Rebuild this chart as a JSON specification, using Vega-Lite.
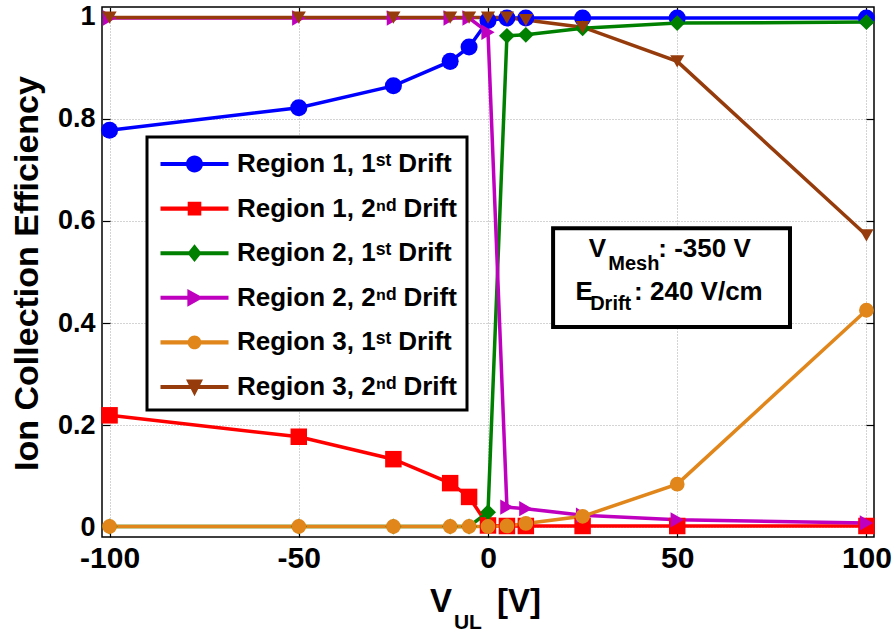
{
  "$schema": "https://vega.github.io/schema/vega-lite/v6.json",
  "width": 772,
  "height": 530,
  "autosize": {"type": "none"},
  "padding": {"left": 102, "top": 7, "right": 18, "bottom": 96},
  "background": "white",
  "config": {
    "view": {"stroke": "black", "strokeWidth": 1.5},
    "font": "Liberation Sans",
    "axis": {
      "labelFont": "Liberation Sans",
      "labelFontWeight": "bold",
      "labelColor": "black",
      "titleFont": "Liberation Sans",
      "titleFontWeight": "bold",
      "titleColor": "black",
      "domain": false,
      "tickColor": "black",
      "tickWidth": 1.2,
      "gridColor": "#a8a8a8",
      "gridDash": [1, 2],
      "gridWidth": 1
    }
  },
  "datasets": {
    "main": [
      {"V": -100, "eff": 0.778, "series": "Region 1, 1ˢᵗ Drift"},
      {"V": -50, "eff": 0.822, "series": "Region 1, 1ˢᵗ Drift"},
      {"V": -25, "eff": 0.865, "series": "Region 1, 1ˢᵗ Drift"},
      {"V": -10, "eff": 0.913, "series": "Region 1, 1ˢᵗ Drift"},
      {"V": -5, "eff": 0.941, "series": "Region 1, 1ˢᵗ Drift"},
      {"V": 0, "eff": 0.993, "series": "Region 1, 1ˢᵗ Drift"},
      {"V": 5, "eff": 0.998, "series": "Region 1, 1ˢᵗ Drift"},
      {"V": 10, "eff": 0.998, "series": "Region 1, 1ˢᵗ Drift"},
      {"V": 25, "eff": 0.998, "series": "Region 1, 1ˢᵗ Drift"},
      {"V": 50, "eff": 0.998, "series": "Region 1, 1ˢᵗ Drift"},
      {"V": 100, "eff": 0.998, "series": "Region 1, 1ˢᵗ Drift"},
      {"V": -100, "eff": 0.219, "series": "Region 1, 2ⁿᵈ Drift"},
      {"V": -50, "eff": 0.177, "series": "Region 1, 2ⁿᵈ Drift"},
      {"V": -25, "eff": 0.133, "series": "Region 1, 2ⁿᵈ Drift"},
      {"V": -10, "eff": 0.086, "series": "Region 1, 2ⁿᵈ Drift"},
      {"V": -5, "eff": 0.059, "series": "Region 1, 2ⁿᵈ Drift"},
      {"V": 0, "eff": 0.003, "series": "Region 1, 2ⁿᵈ Drift"},
      {"V": 5, "eff": 0.002, "series": "Region 1, 2ⁿᵈ Drift"},
      {"V": 10, "eff": 0.002, "series": "Region 1, 2ⁿᵈ Drift"},
      {"V": 25, "eff": 0.002, "series": "Region 1, 2ⁿᵈ Drift"},
      {"V": 50, "eff": 0.002, "series": "Region 1, 2ⁿᵈ Drift"},
      {"V": 100, "eff": 0.002, "series": "Region 1, 2ⁿᵈ Drift"},
      {"V": -100, "eff": 0.001, "series": "Region 2, 1ˢᵗ Drift"},
      {"V": -50, "eff": 0.001, "series": "Region 2, 1ˢᵗ Drift"},
      {"V": -25, "eff": 0.001, "series": "Region 2, 1ˢᵗ Drift"},
      {"V": -10, "eff": 0.001, "series": "Region 2, 1ˢᵗ Drift"},
      {"V": -5, "eff": 0.001, "series": "Region 2, 1ˢᵗ Drift"},
      {"V": 0, "eff": 0.029, "series": "Region 2, 1ˢᵗ Drift"},
      {"V": 5, "eff": 0.963, "series": "Region 2, 1ˢᵗ Drift"},
      {"V": 10, "eff": 0.965, "series": "Region 2, 1ˢᵗ Drift"},
      {"V": 25, "eff": 0.978, "series": "Region 2, 1ˢᵗ Drift"},
      {"V": 50, "eff": 0.988, "series": "Region 2, 1ˢᵗ Drift"},
      {"V": 100, "eff": 0.99, "series": "Region 2, 1ˢᵗ Drift"},
      {"V": -100, "eff": 0.998, "series": "Region 2, 2ⁿᵈ Drift"},
      {"V": -50, "eff": 0.998, "series": "Region 2, 2ⁿᵈ Drift"},
      {"V": -25, "eff": 0.998, "series": "Region 2, 2ⁿᵈ Drift"},
      {"V": -10, "eff": 0.998, "series": "Region 2, 2ⁿᵈ Drift"},
      {"V": -5, "eff": 0.998, "series": "Region 2, 2ⁿᵈ Drift"},
      {"V": 0, "eff": 0.97, "series": "Region 2, 2ⁿᵈ Drift"},
      {"V": 5, "eff": 0.039, "series": "Region 2, 2ⁿᵈ Drift"},
      {"V": 10, "eff": 0.036, "series": "Region 2, 2ⁿᵈ Drift"},
      {"V": 25, "eff": 0.023, "series": "Region 2, 2ⁿᵈ Drift"},
      {"V": 50, "eff": 0.014, "series": "Region 2, 2ⁿᵈ Drift"},
      {"V": 100, "eff": 0.008, "series": "Region 2, 2ⁿᵈ Drift"},
      {"V": -100, "eff": 0.001, "series": "Region 3, 1ˢᵗ Drift"},
      {"V": -50, "eff": 0.001, "series": "Region 3, 1ˢᵗ Drift"},
      {"V": -25, "eff": 0.001, "series": "Region 3, 1ˢᵗ Drift"},
      {"V": -10, "eff": 0.001, "series": "Region 3, 1ˢᵗ Drift"},
      {"V": -5, "eff": 0.001, "series": "Region 3, 1ˢᵗ Drift"},
      {"V": 0, "eff": 0.001, "series": "Region 3, 1ˢᵗ Drift"},
      {"V": 5, "eff": 0.002, "series": "Region 3, 1ˢᵗ Drift"},
      {"V": 10, "eff": 0.007, "series": "Region 3, 1ˢᵗ Drift"},
      {"V": 25, "eff": 0.021, "series": "Region 3, 1ˢᵗ Drift"},
      {"V": 50, "eff": 0.084, "series": "Region 3, 1ˢᵗ Drift"},
      {"V": 100, "eff": 0.425, "series": "Region 3, 1ˢᵗ Drift"},
      {"V": -100, "eff": 0.999, "series": "Region 3, 2ⁿᵈ Drift"},
      {"V": -50, "eff": 0.999, "series": "Region 3, 2ⁿᵈ Drift"},
      {"V": -25, "eff": 0.999, "series": "Region 3, 2ⁿᵈ Drift"},
      {"V": -10, "eff": 0.999, "series": "Region 3, 2ⁿᵈ Drift"},
      {"V": -5, "eff": 0.999, "series": "Region 3, 2ⁿᵈ Drift"},
      {"V": 0, "eff": 0.999, "series": "Region 3, 2ⁿᵈ Drift"},
      {"V": 5, "eff": 0.999, "series": "Region 3, 2ⁿᵈ Drift"},
      {"V": 10, "eff": 0.994, "series": "Region 3, 2ⁿᵈ Drift"},
      {"V": 25, "eff": 0.98, "series": "Region 3, 2ⁿᵈ Drift"},
      {"V": 50, "eff": 0.913, "series": "Region 3, 2ⁿᵈ Drift"},
      {"V": 100, "eff": 0.572, "series": "Region 3, 2ⁿᵈ Drift"}
    ],
    "legendrows": [
      {"V": null, "eff": null, "series": "Region 1, 1ˢᵗ Drift"},
      {"V": null, "eff": null, "series": "Region 1, 2ⁿᵈ Drift"},
      {"V": null, "eff": null, "series": "Region 2, 1ˢᵗ Drift"},
      {"V": null, "eff": null, "series": "Region 2, 2ⁿᵈ Drift"},
      {"V": null, "eff": null, "series": "Region 3, 1ˢᵗ Drift"},
      {"V": null, "eff": null, "series": "Region 3, 2ⁿᵈ Drift"}
    ]
  },
  "layer": [
    {
      "data": {"name": "main"},
      "mark": {"type": "line", "strokeWidth": 3.5},
      "encoding": {
        "x": {"field": "V", "type": "quantitative", "scale": {"domain": [-102, 102], "nice": false, "zero": false},
          "axis": {"orient": "bottom", "values": [-100, -50, 0, 50, 100], "title": null, "labelFontSize": 30, "tickSize": -8, "labelPadding": 14, "grid": true, "labelFlush": false, "labelExpr": "replace(datum.label, '−', '-')"}},
        "y": {"field": "eff", "type": "quantitative", "scale": {"domain": [-0.0196, 1.0196], "nice": false, "zero": false},
          "axis": {"orient": "left", "values": [0, 0.2, 0.4, 0.6, 0.8, 1], "format": "~g", "title": "Ion Collection Efficiency", "titleFontSize": 34, "titleAngle": -90, "titleBaseline": "alphabetic", "titleAlign": "center", "titleX": -65, "titleY": 266, "labelFontSize": 27, "tickSize": -8, "labelPadding": 15, "grid": true, "labelFlush": false}},
        "color": {"field": "series", "type": "nominal", "legend": null,
          "scale": {"domain": ["Region 1, 1ˢᵗ Drift", "Region 1, 2ⁿᵈ Drift", "Region 2, 1ˢᵗ Drift", "Region 2, 2ⁿᵈ Drift", "Region 3, 1ˢᵗ Drift", "Region 3, 2ⁿᵈ Drift"],
            "range": ["#0000FF", "#FF0000", "#008000", "#BF00BF", "#E0861A", "#963C0C"]}},
        "order": {"field": "V", "type": "quantitative"}
      }
    },
    {
      "data": {"name": "main"},
      "mark": {"type": "point", "filled": true, "opacity": 1, "strokeWidth": 0},
      "encoding": {
        "x": {"field": "V", "type": "quantitative", "scale": {"domain": [-102, 102], "nice": false, "zero": false}, "axis": null},
        "y": {"field": "eff", "type": "quantitative", "scale": {"domain": [-0.0196, 1.0196], "nice": false, "zero": false}, "axis": null},
        "color": {"field": "series", "type": "nominal", "legend": null,
          "scale": {"domain": ["Region 1, 1ˢᵗ Drift", "Region 1, 2ⁿᵈ Drift", "Region 2, 1ˢᵗ Drift", "Region 2, 2ⁿᵈ Drift", "Region 3, 1ˢᵗ Drift", "Region 3, 2ⁿᵈ Drift"],
            "range": ["#0000FF", "#FF0000", "#008000", "#BF00BF", "#E0861A", "#963C0C"]}},
        "shape": {"field": "series", "type": "nominal", "legend": null,
          "scale": {"domain": ["Region 1, 1ˢᵗ Drift", "Region 1, 2ⁿᵈ Drift", "Region 2, 1ˢᵗ Drift", "Region 2, 2ⁿᵈ Drift", "Region 3, 1ˢᵗ Drift", "Region 3, 2ⁿᵈ Drift"],
            "range": ["circle", "square", "diamond", "triangle-right", "circle", "triangle-down"]}},
        "size": {"field": "series", "type": "nominal", "legend": null,
          "scale": {"domain": ["Region 1, 1ˢᵗ Drift", "Region 1, 2ⁿᵈ Drift", "Region 2, 1ˢᵗ Drift", "Region 2, 2ⁿᵈ Drift", "Region 3, 1ˢᵗ Drift", "Region 3, 2ⁿᵈ Drift"],
            "range": [290, 200, 250, 250, 170, 300]}}
      }
    },
    {
      "data": {"name": "legendrows"},
      "mark": {"type": "point", "filled": true},
      "encoding": {
        "x": {"field": "V", "type": "quantitative", "scale": {"domain": [-102, 102], "nice": false, "zero": false},
          "axis": {"orient": "top", "values": [-100, -50, 0, 50, 100], "labels": false, "title": null, "tickSize": -8, "grid": false}},
        "y": {"field": "eff", "type": "quantitative", "scale": {"domain": [-0.0196, 1.0196], "nice": false, "zero": false},
          "axis": {"orient": "right", "values": [0, 0.2, 0.4, 0.6, 0.8, 1], "labels": false, "title": null, "tickSize": -8, "grid": false}},
        "color": {"field": "series", "type": "nominal",
          "scale": {"domain": ["Region 1, 1ˢᵗ Drift", "Region 1, 2ⁿᵈ Drift", "Region 2, 1ˢᵗ Drift", "Region 2, 2ⁿᵈ Drift", "Region 3, 1ˢᵗ Drift", "Region 3, 2ⁿᵈ Drift"],
            "range": ["#0000FF", "#FF0000", "#008000", "#BF00BF", "#E0861A", "#963C0C"]},
          "legend": {"title": null, "orient": "none", "legendX": 45, "legendY": 130, "padding": 10, "rowPadding": 14.6, "symbolSize": 1156, "symbolOffset": 20.5, "labelOffset": 25.5, "labelFontSize": 26, "labelFont": "Liberation Sans", "labelFontWeight": "bold", "labelColor": "black", "fillColor": "white", "strokeColor": "black", "symbolStrokeWidth": 0, "symbolOpacity": 1, "labelLimit": 400,
            "encode": {"legend": {"update": {"strokeWidth": {"value": 3}}}}}},
        "shape": {"field": "series", "type": "nominal",
          "scale": {"domain": ["Region 1, 1ˢᵗ Drift", "Region 1, 2ⁿᵈ Drift", "Region 2, 1ˢᵗ Drift", "Region 2, 2ⁿᵈ Drift", "Region 3, 1ˢᵗ Drift", "Region 3, 2ⁿᵈ Drift"],
            "range": [
              "M-2,-0.12H2V0.12H-2Z M0.5,0A0.5,0.5,0,1,1,-0.5,0A0.5,0.5,0,1,1,0.5,0Z",
              "M-2,-0.12H2V0.12H-2Z M-0.4,-0.4H0.4V0.4H-0.4Z",
              "M-2,-0.12H2V0.12H-2Z M0,-0.52L0.42,0L0,0.52L-0.42,0Z",
              "M-2,-0.12H2V0.12H-2Z M-0.42,-0.52L0.52,0L-0.42,0.52Z",
              "M-2,-0.12H2V0.12H-2Z M0.4,0A0.4,0.4,0,1,1,-0.4,0A0.4,0.4,0,1,1,0.4,0Z",
              "M-2,-0.12H2V0.12H-2Z M-0.5,-0.44H0.5L0,0.54Z"
            ]},
          "legend": {"title": null, "orient": "none", "legendX": 45, "legendY": 130, "padding": 10, "rowPadding": 14.6, "symbolSize": 1156, "symbolOffset": 20.5, "labelOffset": 25.5, "labelFontSize": 26, "labelFont": "Liberation Sans", "labelFontWeight": "bold", "labelColor": "black", "fillColor": "white", "strokeColor": "black", "symbolStrokeWidth": 0, "symbolOpacity": 1, "labelLimit": 400,
            "encode": {"legend": {"update": {"strokeWidth": {"value": 3}}}}}}
      }
    },
    {
      "data": {"values": [{}]},
      "mark": {"type": "rect", "fill": "white", "stroke": "black", "strokeWidth": 4},
      "encoding": {
        "x": {"datum": 17.2, "type": "quantitative", "scale": {"domain": [-102, 102], "nice": false, "zero": false}, "axis": null},
        "x2": {"datum": 79.8},
        "y": {"datum": 0.586, "type": "quantitative", "scale": {"domain": [-0.0196, 1.0196], "nice": false, "zero": false}, "axis": null},
        "y2": {"datum": 0.392}
      }
    },
    {
      "data": {"values": [{}]},
      "mark": {"type": "text", "text": "V", "align": "left", "baseline": "alphabetic", "fontSize": 26, "fontWeight": "bold", "font": "Liberation Sans", "color": "black"},
      "encoding": {
        "x": {"datum": 26.6, "type": "quantitative", "scale": {"domain": [-102, 102], "nice": false, "zero": false}, "axis": null},
        "y": {"datum": 0.529, "type": "quantitative", "scale": {"domain": [-0.0196, 1.0196], "nice": false, "zero": false}, "axis": null}
      }
    },
    {
      "data": {"values": [{}]},
      "mark": {"type": "text", "text": "Mesh", "align": "left", "baseline": "alphabetic", "fontSize": 20, "fontWeight": "bold", "font": "Liberation Sans", "color": "black"},
      "encoding": {
        "x": {"datum": 31.8, "type": "quantitative", "scale": {"domain": [-102, 102], "nice": false, "zero": false}, "axis": null},
        "y": {"datum": 0.504, "type": "quantitative", "scale": {"domain": [-0.0196, 1.0196], "nice": false, "zero": false}, "axis": null}
      }
    },
    {
      "data": {"values": [{}]},
      "mark": {"type": "text", "text": ": -350 V", "align": "left", "baseline": "alphabetic", "fontSize": 26, "fontWeight": "bold", "font": "Liberation Sans", "color": "black"},
      "encoding": {
        "x": {"datum": 45.0, "type": "quantitative", "scale": {"domain": [-102, 102], "nice": false, "zero": false}, "axis": null},
        "y": {"datum": 0.529, "type": "quantitative", "scale": {"domain": [-0.0196, 1.0196], "nice": false, "zero": false}, "axis": null}
      }
    },
    {
      "data": {"values": [{}]},
      "mark": {"type": "text", "text": "E", "align": "left", "baseline": "alphabetic", "fontSize": 26, "fontWeight": "bold", "font": "Liberation Sans", "color": "black"},
      "encoding": {
        "x": {"datum": 23.1, "type": "quantitative", "scale": {"domain": [-102, 102], "nice": false, "zero": false}, "axis": null},
        "y": {"datum": 0.445, "type": "quantitative", "scale": {"domain": [-0.0196, 1.0196], "nice": false, "zero": false}, "axis": null}
      }
    },
    {
      "data": {"values": [{}]},
      "mark": {"type": "text", "text": "Drift", "align": "left", "baseline": "alphabetic", "fontSize": 20, "fontWeight": "bold", "font": "Liberation Sans", "color": "black"},
      "encoding": {
        "x": {"datum": 27.0, "type": "quantitative", "scale": {"domain": [-102, 102], "nice": false, "zero": false}, "axis": null},
        "y": {"datum": 0.4255, "type": "quantitative", "scale": {"domain": [-0.0196, 1.0196], "nice": false, "zero": false}, "axis": null}
      }
    },
    {
      "data": {"values": [{}]},
      "mark": {"type": "text", "text": ": 240 V/cm", "align": "left", "baseline": "alphabetic", "fontSize": 26, "fontWeight": "bold", "font": "Liberation Sans", "color": "black"},
      "encoding": {
        "x": {"datum": 38.6, "type": "quantitative", "scale": {"domain": [-102, 102], "nice": false, "zero": false}, "axis": null},
        "y": {"datum": 0.445, "type": "quantitative", "scale": {"domain": [-0.0196, 1.0196], "nice": false, "zero": false}, "axis": null}
      }
    },
    {
      "data": {"values": [{}]},
      "mark": {"type": "text", "text": "V", "align": "left", "baseline": "alphabetic", "fontSize": 33, "fontWeight": "bold", "font": "Liberation Sans", "color": "black"},
      "encoding": {
        "x": {"datum": -15.3, "type": "quantitative", "scale": {"domain": [-102, 102], "nice": false, "zero": false}, "axis": null},
        "y": {"datum": -0.1667, "type": "quantitative", "scale": {"domain": [-0.0196, 1.0196], "nice": false, "zero": false}, "axis": null}
      }
    },
    {
      "data": {"values": [{}]},
      "mark": {"type": "text", "text": "UL", "align": "left", "baseline": "alphabetic", "fontSize": 21, "fontWeight": "bold", "font": "Liberation Sans", "color": "black"},
      "encoding": {
        "x": {"datum": -9.0, "type": "quantitative", "scale": {"domain": [-102, 102], "nice": false, "zero": false}, "axis": null},
        "y": {"datum": -0.2, "type": "quantitative", "scale": {"domain": [-0.0196, 1.0196], "nice": false, "zero": false}, "axis": null}
      }
    },
    {
      "data": {"values": [{}]},
      "mark": {"type": "text", "text": "[V]", "align": "left", "baseline": "alphabetic", "fontSize": 33, "fontWeight": "bold", "font": "Liberation Sans", "color": "black"},
      "encoding": {
        "x": {"datum": 2.4, "type": "quantitative", "scale": {"domain": [-102, 102], "nice": false, "zero": false}, "axis": null},
        "y": {"datum": -0.1667, "type": "quantitative", "scale": {"domain": [-0.0196, 1.0196], "nice": false, "zero": false}, "axis": null}
      }
    }
  ],
  "resolve": {"scale": {"color": "independent", "shape": "independent", "size": "independent"}}
}
